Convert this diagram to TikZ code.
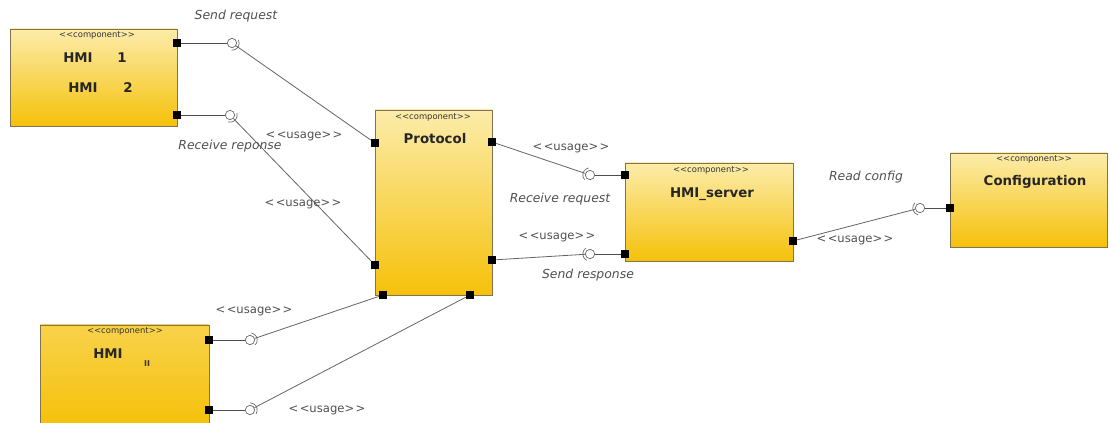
\documentclass[tikz,border=0pt]{standalone}
\usepackage{fontspec}
\setmainfont{DejaVu Sans}
\usetikzlibrary{calc}
\definecolor{boxtop}{RGB}{252,236,170}
\definecolor{boxbot}{RGB}{245,193,10}
\definecolor{boxedge}{RGB}{130,115,80}
\definecolor{wire}{RGB}{100,100,100}
\definecolor{lbl}{RGB}{80,80,80}
\newcommand{\usg}{<\kern1pt<usage>\kern1pt>}
\newcommand{\cmpt}{<\kern0pt<component>\kern0pt>}
\tikzset{
  comp/.style={draw=boxedge, line width=0.6pt, top color=boxtop, bottom color=boxbot},
  portsq/.style={fill=black, inner sep=0pt, minimum size=6pt, draw=none},
  ball/.style={circle, draw=wire, line width=0.5pt, fill=white, inner sep=0pt, minimum size=7pt},
  wireline/.style={draw=wire, line width=0.6pt},
  stereo/.style={font=\fontsize{6.3}{7}\selectfont, text=black!80},
  cname/.style={font=\fontsize{10}{11}\bfseries\selectfont, text=black!85},
  usage/.style={font=\fontsize{8.7}{9}\selectfont, text=lbl},
  iname/.style={font=\fontsize{9.3}{10}\itshape\selectfont, text=lbl},
}
\newcommand{\sockarc}[2]{%
  \path let \p1=($(#2)-(#1)$), \n1={atan2(\y1,\x1)} in
    [draw=wire, line width=0.5pt] ($(#1)+(\n1-60:5.4pt)$) arc[start angle=\n1-60, end angle=\n1+60, radius=5.4pt];}
\begin{document}
\begin{tikzpicture}[x=0.75pt,y=-0.75pt]
\useasboundingbox (0,0) rectangle (1111,423);
% boxes
\path[comp] (10,29) rectangle (177,126);
\path[comp] (375,110) rectangle (492,295);
\path[comp] (625,163) rectangle (793,261);
\path[comp] (950,153) rectangle (1107,247);
\path[draw=boxedge, line width=0.6pt, top color={rgb,255:red,248;green,210;blue,75}, bottom color=boxbot] (40,325) rectangle (209,426);
% box texts
\node[stereo] (st1) at (97,35) {\cmpt};
\node[cname] (h1a) at (78,58) {HMI};
\node[cname] (h1b) at (122,58) {1};
\node[cname] (h2a) at (83,88) {HMI};
\node[cname] (h2b) at (128,88) {2};
\node[stereo] (st2) at (433,117) {\cmpt};
\node[cname] (pname) at (435,139) {Protocol};
\node[stereo] (st3) at (711,170) {\cmpt};
\node[cname] (sname) at (712,194) {HMI\_server};
\node[stereo] (st4) at (1034,159) {\cmpt};
\node[cname] (cname) at (1035,182) {Configuration};
\node[stereo] (st5) at (125,331) {\cmpt};
\node[cname] (h3a) at (108,354) {HMI};
\node[font=\fontsize{6}{7}\bfseries\selectfont, text=black!80] (h3b) at (147,364) {II};
% ports
\node[portsq] (a1) at (177,43) {};
\node[portsq] (a2) at (177,115) {};
\node[portsq] (p1) at (375,143) {};
\node[portsq] (p2) at (375,265) {};
\node[portsq] (p3) at (492,142) {};
\node[portsq] (p4) at (492,260) {};
\node[portsq] (p5) at (383,295) {};
\node[portsq] (p6) at (470,295) {};
\node[portsq] (s1) at (625,175) {};
\node[portsq] (s2) at (625,254) {};
\node[portsq] (s3) at (793,241) {};
\node[portsq] (c1) at (950,208) {};
\node[portsq] (b1) at (209,340) {};
\node[portsq] (b2) at (209,410) {};
% balls
\node[ball] (k1) at (232,43) {};
\node[ball] (k2) at (230,115) {};
\node[ball] (k3) at (590,175) {};
\node[ball] (k4) at (590,254) {};
\node[ball] (k5) at (920,208) {};
\node[ball] (k6) at (250,340) {};
\node[ball] (k7) at (250,410) {};
% short port lines
\draw[wireline, draw=black!70] (a1) -- (k1);
\draw[wireline, draw=black!70] (a2) -- (k2);
\draw[wireline, draw=black!70] (s1) -- (k3);
\draw[wireline, draw=black!70] (s2) -- (k4);
\draw[wireline, draw=black!70] (c1) -- (k5);
\draw[wireline, draw=black!70] (b1) -- (k6);
\draw[wireline, draw=black!70] (b2) -- (k7);
% usage lines
\draw[wireline] (k1) -- (p1);
\draw[wireline] (k2) -- (p2);
\draw[wireline] (p3) -- (k3);
\draw[wireline] (p4) -- (k4);
\draw[wireline] (s3) -- (k5);
\draw[wireline] (k6) -- (p5);
\draw[wireline] (k7) -- (p6);
% sockets
\sockarc{k1}{p1}
\sockarc{k2}{p2}
\sockarc{k3}{p3}
\sockarc{k4}{p4}
\sockarc{k5}{s3}
\sockarc{k6}{p5}
\sockarc{k7}{p6}
% labels
\node[iname] (l1) at (236,16) {Send request};
\node[usage] (u1) at (304,136) {\usg};
\node[iname] (l2) at (230,146) {Receive reponse};
\node[usage] (u2) at (303,204) {\usg};
\node[usage] (u3) at (571,148) {\usg};
\node[iname] (l3) at (560,199) {Receive request};
\node[usage] (u4) at (557,237) {\usg};
\node[iname] (l4) at (588,275) {Send response};
\node[iname] (l5) at (866,177) {Read config};
\node[usage] (u5) at (855,240) {\usg};
\node[usage] (u6) at (254,311) {\usg};
\node[usage] (u7) at (327,410) {\usg};
\end{tikzpicture}
\end{document}
